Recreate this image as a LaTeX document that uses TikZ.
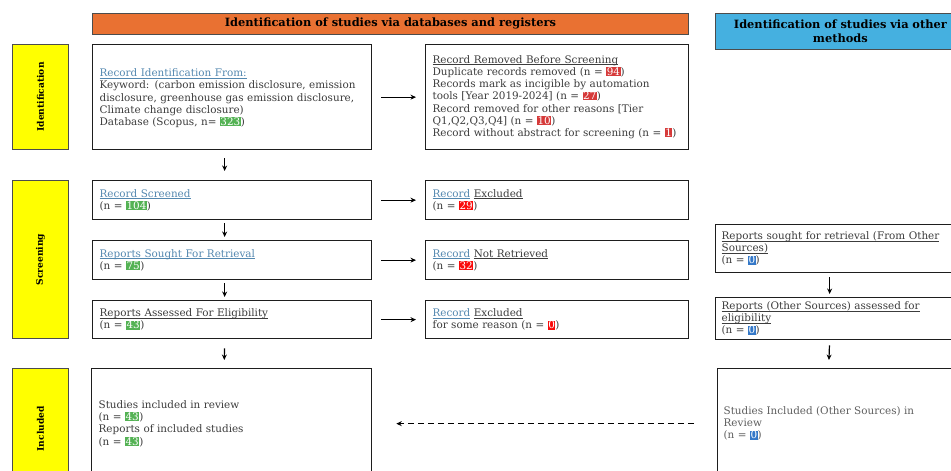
\documentclass[tikz,border=0pt]{standalone}
\usepackage{fontspec}
\setmainfont{DejaVu Serif}
\usetikzlibrary{arrows.meta}
\definecolor{hdorange}{RGB}{233,113,50}
\definecolor{hdblue}{RGB}{69,176,224}
\definecolor{sideyellow}{RGB}{255,255,0}
\definecolor{lblue}{RGB}{84,136,176}
\definecolor{bodygrey}{RGB}{60,60,60}
\definecolor{lightgrey}{RGB}{95,95,95}
\definecolor{hgreen}{RGB}{84,178,84}
\definecolor{hred}{RGB}{214,58,58}
\definecolor{hbred}{RGB}{250,10,10}
\definecolor{hblue}{RGB}{52,120,200}
\definecolor{boxline}{RGB}{30,30,30}
\newcommand{\hlbox}[2]{{\setlength{\fboxsep}{0.5pt}\colorbox{#1}{\textcolor{white}{#2}}}}
\newcommand{\hgG}[1]{\hlbox{hgreen}{#1}}
\newcommand{\hgR}[1]{\hlbox{hred}{#1}}
\newcommand{\hgRR}[1]{\hlbox{hbred}{#1}}
\newcommand{\hgB}[1]{\hlbox{hblue}{#1}}
\newcommand{\myul}[1]{\leavevmode{\setbox0\hbox{#1}\rlap{\rule[-1.6pt]{\wd0}{0.45pt}}\box0}}
\newcommand{\lbl}[1]{\textcolor{lblue}{\myul{#1}}}
\tikzset{
  boxstyle/.style={draw=boxline, line width=1.3pt, anchor=north west, align=left,
    inner xsep=7pt, inner ysep=2pt, text=bodygrey,
    font=\fontsize{10.4}{12.2}\selectfont},
  sidebox/.style={draw=black!70, line width=0.8pt, fill=sideyellow, anchor=north west,
    minimum width=56pt, inner sep=0pt},
  sidetext/.style={rotate=90, font=\fontsize{9.1}{10}\selectfont\bfseries, text=black},
  header/.style={draw=black!70, line width=0.8pt, anchor=north west, align=center,
    font=\fontsize{11.4}{14}\selectfont\bfseries, text=black, inner sep=0pt},
  flowarrow/.style={-{Stealth[length=5.5pt,width=5pt]}, line width=1.2pt, black},
}
\begin{document}
\begin{tikzpicture}[x=1pt,y=-1pt]
\clip (0,0) rectangle (951,471);
\fill[white] (0,0) rectangle (951,471);
% headers
\node[header, fill=hdorange, minimum width=596pt, minimum height=21pt] (hdrA) at (92,13)
  {Identification of studies via databases and registers};
\node[header, fill=hdblue, minimum width=250pt, minimum height=36pt, text width=248pt] (hdrB) at (715,13)
  {Identification of studies via other\\methods};
% side labels
\node[sidebox, minimum height=105pt] (sideI) at (12,44) {};
\node[sidetext] (sideIt) at (sideI.center) {Identification};
\node[sidebox, minimum height=158pt] (sideS) at (12,180) {};
\node[sidetext] (sideSt) at (sideS.center) {Screening};
\node[sidebox, minimum height=115pt] (sideN) at (12,368) {};
\node[sidetext] (sideNt) at ([yshift=-3pt]sideN.center) {Included};
% left column
\node[boxstyle, text width=265pt, minimum height=105pt] (A) at (92,44)
  {\\[-2pt]\lbl{Record Identification From:}\\
   Keyword: (carbon emission disclosure, emission\\
   disclosure, greenhouse gas emission disclosure,\\
   Climate change disclosure)\\
   Database (Scopus, n= \hgG{323})};
\node[boxstyle, text width=249pt, minimum height=105pt] (B) at (425,44)
  {\myul{Record Removed Before Screening}\\
   Duplicate records removed (n = \hgR{94})\\
   Records mark as incigible by automation\\
   tools [Year 2019-2024] (n = \hgR{27})\\
   Record removed for other reasons [Tier\\
   Q1,Q2,Q3,Q4] (n = \hgR{10})\\
   Record without abstract for screening (n = \hgR{1})};
\node[boxstyle, text width=265pt, minimum height=39pt] (C) at (92,180)
  {\lbl{Record Screened}\\(n = \hgG{104})};
\node[boxstyle, text width=249pt, minimum height=39pt] (D) at (425,180)
  {\lbl{Record} \myul{Excluded}\\(n = \hgRR{29})};
\node[boxstyle, text width=265pt, minimum height=39pt] (E) at (92,240)
  {\lbl{Reports Sought For Retrieval}\\(n = \hgG{75})};
\node[boxstyle, text width=249pt, minimum height=39pt] (F) at (425,240)
  {\lbl{Record} \myul{Not Retrieved}\\(n = \hgRR{32})};
\node[boxstyle, text width=265pt, minimum height=38pt] (G) at (92,300)
  {\myul{Reports Assessed For Eligibility}\\(n = \hgG{43})};
\node[boxstyle, text width=249pt, minimum height=38pt] (H) at (425,300)
  {\lbl{Record} \myul{Excluded}\\for some reason (n = \hgRR{0})};
\node[boxstyle, text width=266pt, minimum height=110pt] (I) at (91,368)
  {Studies included in review\\(n = \hgG{43})\\Reports of included studies\\(n = \hgG{43})};
% right column
\node[boxstyle, inner xsep=6pt, text width=238pt, minimum height=48pt] (J) at (715,224)
  {\myul{Reports sought for retrieval (From Other}\\\myul{Sources)}\\(n = \hgB{0})};
\node[boxstyle, inner xsep=6pt, text width=238pt, minimum height=42pt] (K) at (715,297)
  {\myul{Reports (Other Sources) assessed for}\\\myul{eligibility}\\(n = \hgB{0})};
\node[boxstyle, inner xsep=6pt, text width=236pt, minimum height=110pt, text=lightgrey] (L) at (717,368)
  {Studies Included (Other Sources) in\\Review\\(n = \hgB{0})};
% connectors
\draw[flowarrow, shorten <=9pt, shorten >=9pt] (A.east) -- (B.west);
\draw[flowarrow, shorten <=9pt, shorten >=9pt] (C.east) -- (D.west);
\draw[flowarrow, shorten <=9pt, shorten >=9pt] (E.east) -- (F.west);
\draw[flowarrow, shorten <=9pt, shorten >=9pt] (G.east) -- (H.west);
\draw[flowarrow, shorten <=8pt, shorten >=9pt] ([xshift=-7.5pt]A.south) -- ([xshift=-7.5pt]C.north);
\draw[flowarrow, shorten <=3pt, shorten >=3pt] ([xshift=-7.5pt]C.south) -- ([xshift=-7.5pt]E.north);
\draw[flowarrow, shorten <=3pt, shorten >=3pt] ([xshift=-7.5pt]E.south) -- ([xshift=-7.5pt]G.north);
\draw[flowarrow, shorten <=9pt, shorten >=8pt] ([xshift=-7.5pt]G.south) -- ([xshift=-7.5pt]I.north);
\draw[flowarrow, shorten <=4pt, shorten >=3pt] ([xshift=-11pt]J.south) -- ([xshift=-11pt]K.north);
\draw[flowarrow, shorten <=5pt, shorten >=8pt] ([xshift=-11pt]K.south) -- ([xshift=-13pt]L.north);
\draw[flowarrow, line width=1pt, dash pattern=on 6pt off 4pt, shorten <=23pt, shorten >=24pt] (L.west) -- (I.east);
\end{tikzpicture}
\end{document}
